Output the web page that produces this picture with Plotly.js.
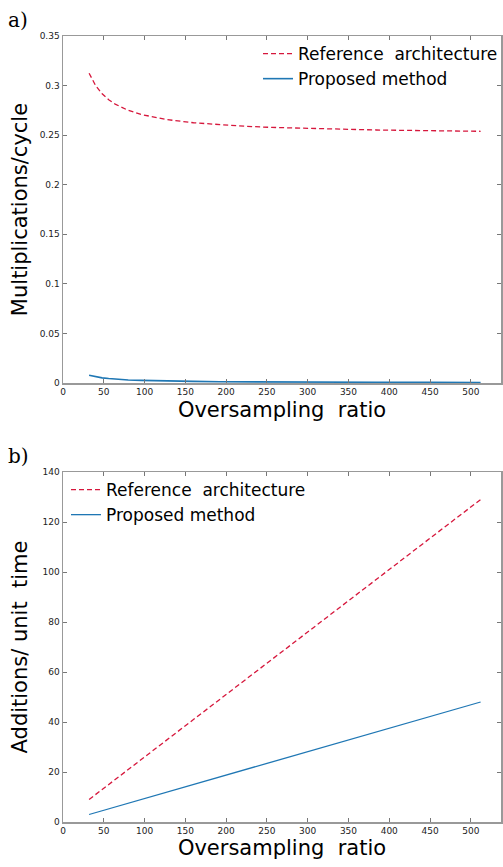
<!DOCTYPE html>
<html>
<head>
<meta charset="utf-8">
<script src="https://cdn.plot.ly/plotly-3.0.1.min.js"></script>
<style>html,body{margin:0;padding:0;background:#fff;}#chart{width:503px;height:867px;}</style>
</head>
<body>
<div id="chart"></div>
<script>
// Panel a) multiplications per cycle
const osrA = [32, 40, 48, 56, 64, 80, 96, 112, 128, 160, 192, 224, 256, 320, 384, 448, 512];
const refA = [0.3125, 0.300, 0.2917, 0.2857, 0.2813, 0.2750, 0.2708, 0.2679, 0.2656, 0.2625, 0.2604, 0.2589, 0.2578, 0.2563, 0.2552, 0.2545, 0.2539];
const propA = [0.0078, 0.0063, 0.0052, 0.0045, 0.0039, 0.0031, 0.0026, 0.0022, 0.0020, 0.0016, 0.0013, 0.0011, 0.0010, 0.0008, 0.0007, 0.0006, 0.0005];
// Panel b) additions per unit time
const osrB = [32, 64, 128, 256, 384, 512];
const refB = [9, 17, 33, 65, 97, 129];
const propB = [3, 6, 12, 24, 36, 48];
const seriesNames = ["Reference  architecture", "Proposed method"];
const xTicks = [0, 50, 100, 150, 200, 250, 300, 350, 400, 450, 500];
const yTicksA = [0, 0.05, 0.1, 0.15, 0.2, 0.25, 0.3, 0.35];
const yTicksALabels = ["0", "0.05", "0.1", "0.15", "0.2", "0.25", "0.3", "0.35"];
const yTicksB = [0, 20, 40, 60, 80, 100, 120, 140];

const RED = "#d6173c", BLUE = "#1f77b4";
const font = "DejaVu Sans, Liberation Sans, sans-serif";

const traces = [
  {x: osrA, y: refA, name: seriesNames[0], mode: "lines", line: {color: RED, width: 1.3, dash: "5px,3px"}, xaxis: "x", yaxis: "y", legend: "legend"},
  {x: osrA, y: propA, name: seriesNames[1], mode: "lines", line: {color: BLUE, width: 1.6}, xaxis: "x", yaxis: "y", legend: "legend"},
  {x: osrB, y: refB, name: seriesNames[0], mode: "lines", line: {color: RED, width: 1.3, dash: "5px,3px"}, xaxis: "x2", yaxis: "y2", legend: "legend2"},
  {x: osrB, y: propB, name: seriesNames[1], mode: "lines", line: {color: BLUE, width: 1.3}, xaxis: "x2", yaxis: "y2", legend: "legend2"}
];

const axCommon = {
  showgrid: false, zeroline: false, showline: true, mirror: "ticks", automargin: false,
  linecolor: "#999", linewidth: 1.5, ticks: "inside", ticklen: 4, tickcolor: "#777",
  tickfont: {family: font, size: 9, color: "#222"}
};
const titleFont = {family: font, size: 21, color: "#000"};
const legendFont = {family: font, size: 17, color: "#000"};
const xd = [63/503, 501/503];
const layout = {
  width: 503, height: 867,
  margin: {l: 0, r: 0, t: 0, b: 0, autoexpand: false},
  paper_bgcolor: "#fff", plot_bgcolor: "#fff",
  showlegend: true,
  font: {family: font},
  xaxis: Object.assign({}, axCommon, {domain: xd, range: [0, 537], tickvals: xTicks, anchor: "y",
    title: {text: "Oversampling  ratio", font: titleFont, standoff: 6}}),
  yaxis: Object.assign({}, axCommon, {domain: [1 - 383/867, 1 - 36/867], range: [0, 0.35], tickvals: yTicksA, ticktext: yTicksALabels, anchor: "x",
    title: {text: "Multiplications/cycle", font: titleFont, standoff: 6}}),
  xaxis2: Object.assign({}, axCommon, {domain: xd, range: [0, 537], tickvals: xTicks, anchor: "y2",
    title: {text: "Oversampling  ratio", font: titleFont, standoff: 4}}),
  yaxis2: Object.assign({}, axCommon, {domain: [1 - 822/867, 1 - 472/867], range: [0, 140], tickvals: yTicksB, anchor: "x2",
    title: {text: "Additions/ unit  time", font: titleFont, standoff: 9}}),
  legend: {x: 258/503, y: 1 - 36/867, xanchor: "left", yanchor: "top", bgcolor: "rgba(0,0,0,0)",
    font: legendFont, tracegroupgap: 0},
  legend2: {x: 66/503, y: 1 - 472/867, xanchor: "left", yanchor: "top", bgcolor: "rgba(0,0,0,0)",
    font: legendFont, tracegroupgap: 0},
  annotations: [
    {text: "a)", x: 6/503, y: 1 - 6/867, xref: "paper", yref: "paper", xanchor: "left", yanchor: "top", showarrow: false,
      font: {family: "DejaVu Serif, Liberation Serif, serif", size: 20, color: "#000"}},
    {text: "b)", x: 6/503, y: 1 - 442/867, xref: "paper", yref: "paper", xanchor: "left", yanchor: "top", showarrow: false,
      font: {family: "DejaVu Serif, Liberation Serif, serif", size: 20, color: "#000"}}
  ]
};
Plotly.newPlot("chart", traces, layout, {displayModeBar: false, staticPlot: true});
</script>
</body>
</html>
